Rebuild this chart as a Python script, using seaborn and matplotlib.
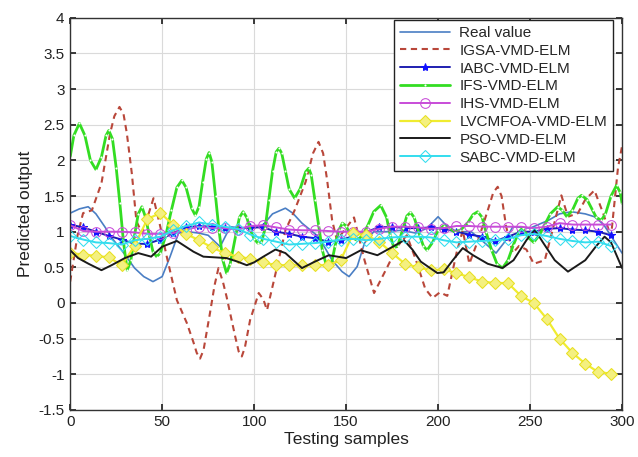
import numpy as np
import pandas as pd
import matplotlib
matplotlib.use("Agg")
import matplotlib.pyplot as plt
import seaborn as sns

# ---------------- data ----------------
real_x = [0, 5, 9.8, 14, 18.8, 23, 28, 35, 40, 45, 50, 54.3, 58.9, 64, 70, 75, 81.5, 87, 93, 100,
          105, 110, 117, 121, 126, 135, 142.4, 147.8, 151.6, 156, 160, 165, 172, 180, 188, 194, 200,
          204, 210, 218, 225, 231.5, 236, 240.6, 250, 260, 266, 272.5, 280, 285, 290, 295, 300]
real_y = [1.26, 1.32, 1.35, 1.25, 1.07, 0.9, 0.74, 0.49, 0.37, 0.3, 0.37, 0.65, 0.98, 1.0, 0.98, 0.95,
          0.79, 1.07, 1.05, 1.05, 1.1, 1.25, 1.33, 1.26, 1.12, 0.93, 0.6, 0.44, 0.37, 0.51, 0.84, 1.0,
          1.0, 1.02, 0.98, 1.05, 1.21, 1.1, 1.0, 1.0, 0.85, 0.7, 0.85, 1.07, 1.05, 1.16, 1.25, 1.28,
          1.25, 1.21, 1.1, 0.9, 0.7]

igsa_x = [0, 4, 7, 11.8, 17, 21.7, 24, 26.8, 29, 30.8, 33.5, 36, 39, 42, 45.3, 49, 52.5, 58, 63.4,
          67, 68.8, 70.6, 72.5, 76, 78.5, 80.6, 83, 85, 89.7, 91.6, 93.3, 95, 97.8, 102.5, 105, 107,
          112.5, 117, 122, 128, 132, 135, 137.5, 139.7, 142.4, 145, 149, 154.3, 160, 165.2, 172.5,
          178, 183, 188, 193, 197, 201, 205, 210, 213.4, 217, 222, 227, 230, 232.4, 234.5, 237,
          240.6, 244, 248, 252, 258, 262, 267, 270.6, 276, 280, 285, 289.7, 294, 297.8, 300]
igsa_y = [0.3, 0.95, 1.26, 1.3, 1.68, 2.38, 2.62, 2.75, 2.65, 2.38, 1.82, 1.15, 0.98, 1.2, 1.47,
          1.07, 0.65, 0.04, -0.28, -0.55, -0.7, -0.78, -0.66, -0.14, 0.25, 0.49, 0.3, 0.09, -0.47,
          -0.68, -0.75, -0.62, -0.24, 0.14, 0.05, -0.1, 0.51, 1.02, 1.3, 1.7, 2.1, 2.26, 2.1, 1.72,
          1.16, 0.88, 1.02, 1.2, 0.6, 0.14, 0.51, 0.8, 0.95, 0.6, 0.2, 0.07, 0.15, 0.1, 0.7, 1.02,
          0.55, 0.9, 1.3, 1.55, 1.63, 1.5, 1.07, 0.7, 0.8, 0.75, 0.55, 0.6, 1.0, 1.51, 1.21, 1.26,
          1.45, 1.58, 1.26, 0.93, 1.9, 2.2]

ifs_x = [0, 2, 5, 8, 11, 14, 17, 19.5, 21, 23, 25, 27, 29, 31, 33, 35, 37, 39, 41, 43, 45, 47, 49,
         52, 55, 58, 60.7, 63, 66, 68, 70, 72, 74, 75.5, 77, 79, 81, 83, 85, 87, 90, 92, 94, 96, 98,
         100, 102, 104, 106, 108, 110, 112, 113.5, 115, 117, 119, 122, 125, 128, 129.7, 131, 133,
         135, 137, 139, 140.6, 142, 144, 146, 148, 150, 153, 156, 159, 162, 165, 168.8, 172, 174,
         176, 178, 181, 183, 185, 187, 190, 192, 194, 197, 200, 203, 206, 209, 212, 216, 219,
         221.5, 224, 226, 229, 232, 235, 238, 241, 244, 246, 249, 252, 255, 258, 261, 265, 267.5,
         270, 273, 276, 278, 281, 284, 286, 288.7, 291, 294, 297, 299, 300]
ifs_y = [2.05, 2.35, 2.52, 2.35, 2.0, 1.87, 2.05, 2.35, 2.42, 2.3, 1.9, 1.4, 0.85, 0.46, 0.6, 0.95,
         1.25, 1.35, 1.2, 0.95, 0.72, 0.65, 0.7, 0.95, 1.3, 1.62, 1.72, 1.62, 1.33, 1.23, 1.35, 1.7,
         2.02, 2.11, 1.98, 1.5, 1.0, 0.6, 0.42, 0.55, 0.95, 1.2, 1.28, 1.2, 1.02, 0.9, 0.84, 0.85,
         1.05, 1.45, 1.85, 2.12, 2.17, 2.1, 1.85, 1.6, 1.47, 1.6, 1.84, 1.89, 1.8, 1.45, 1.1, 0.75,
         0.55, 0.49, 0.55, 0.8, 1.02, 1.12, 1.08, 0.92, 0.88, 0.95, 1.1, 1.28, 1.37, 1.2, 0.95, 0.77,
         0.8, 1.05, 1.22, 1.27, 1.2, 0.95, 0.8, 0.74, 0.85, 1.02, 1.08, 1.05, 1.0, 1.02, 1.12, 1.24,
         1.28, 1.2, 1.0, 0.75, 0.55, 0.49, 0.6, 0.82, 1.0, 1.05, 0.92, 0.85, 0.95, 1.1, 1.25, 1.35,
         1.3, 1.21, 1.3, 1.47, 1.51, 1.45, 1.3, 1.2, 1.16, 1.25, 1.5, 1.65, 1.55, 1.4]

pso_x = [0, 4.3, 10, 17, 22.5, 29.7, 37, 44, 50, 58, 67, 72.4, 85, 91, 96, 100, 105, 111.6, 117, 126,
         133, 140.6, 150, 158, 167, 174, 181.5, 186, 190.6, 199.6, 203, 208, 213.4, 219, 227, 235,
         241, 248, 252.5, 257, 263.4, 270.6, 280, 286, 290.5, 294, 300]
pso_y = [0.74, 0.63, 0.55, 0.46, 0.53, 0.63, 0.7, 0.65, 0.79, 0.87, 0.72, 0.65, 0.63, 0.58, 0.53,
         0.57, 0.65, 0.75, 0.7, 0.49, 0.58, 0.67, 0.63, 0.74, 0.67, 0.77, 0.88, 0.75, 0.58, 0.42,
         0.43, 0.6, 0.77, 0.67, 0.55, 0.49, 0.6, 0.88, 1.03, 0.85, 0.6, 0.44, 0.6, 0.8, 0.93, 0.85,
         0.49]

# marker series sampled every 7 testing samples
mk_x = list(range(0, 295, 7))
ihs_y = [1.09, 1.01, 1.0, 1.0, 1.0, 0.99, 0.97, 0.97, 0.98, 1.03, 1.07, 1.05, 1.05, 1.03, 1.08,
         1.09, 1.06, 1.03, 1.02, 1.02, 1.01, 1.0, 1.0, 1.0, 1.04, 1.07, 1.07, 1.06, 1.04, 1.05,
         1.08, 1.08, 1.07, 1.07, 1.07, 1.07, 1.05, 1.07, 1.12, 1.1, 1.1, 1.1, 1.1]
iabc_y = [1.1, 1.06, 1.0, 0.94, 0.89, 0.83, 0.83, 0.89, 0.98, 1.06, 1.08, 1.07, 1.05, 1.05, 1.06,
          1.06, 1.0, 0.97, 0.93, 0.91, 0.86, 0.88, 0.94, 1.0, 1.06, 1.07, 1.05, 1.05, 1.06, 1.04,
          1.0, 0.96, 0.93, 0.87, 0.93, 1.0, 1.0, 1.04, 1.05, 1.03, 1.02, 1.0, 0.95]
sabc_y = [0.94, 0.89, 0.85, 0.84, 0.82, 0.88, 0.9, 0.93, 1.02, 1.08, 1.13, 1.1, 1.07, 1.04, 0.96,
          0.9, 0.86, 0.82, 0.83, 0.84, 0.86, 0.89, 0.9, 0.88, 0.9, 0.92, 0.93, 0.93, 0.92, 0.88,
          0.85, 0.86, 0.87, 0.88, 0.9, 0.95, 0.97, 0.94, 0.9, 0.87, 0.85, 0.86, 0.8]
lvc_y = [0.7, 0.68, 0.66, 0.64, 0.53, 0.8, 1.18, 1.26, 1.1, 0.97, 0.88, 0.78, 0.7, 0.65, 0.62,
         0.57, 0.53, 0.53, 0.53, 0.53, 0.53, 0.6, 0.98, 0.95, 0.86, 0.7, 0.55, 0.5, 0.46, 0.47,
         0.42, 0.36, 0.3, 0.28, 0.28, 0.1, 0.0, -0.22, -0.5, -0.7, -0.85, -0.97, -0.99]

x_ticks = [0, 50, 100, 150, 200, 250, 300]
y_ticks = [-1.5, -1, -0.5, 0, 0.5, 1, 1.5, 2, 2.5, 3, 3.5, 4]
y_tick_labels = ["-1.5", "-1", "-0.5", "0", "0.5", "1", "1.5", "2", "2.5", "3", "3.5", "4"]

# ---------------- figure ----------------
sns.set_theme(style="whitegrid")
plt.rcParams["font.family"] = ["Liberation Sans", "DejaVu Sans"]

fig = plt.figure(figsize=(6.38, 4.57), dpi=100)
ax = fig.add_axes([0.110, 0.103, 0.865, 0.858])
ax.set_facecolor("white")

def draw(x, y, label, **kw):
    df = pd.DataFrame({"x": x, "y": y})
    sns.lineplot(data=df, x="x", y="y", ax=ax, label=label, sort=False, **kw)

draw(real_x, real_y, "Real value", color="#4A7EC4", linewidth=1.2)
draw(igsa_x, igsa_y, "IGSA-VMD-ELM", color="#B9473A", linewidth=1.5, dashes=(3, 2.2))
draw(mk_x, iabc_y, "IABC-VMD-ELM", color="#1F1FB0", linewidth=1.4, marker="*",
     markersize=6, markerfacecolor="#1010FF", markeredgecolor="#1010FF")
draw(ifs_x, ifs_y, "IFS-VMD-ELM", color="#33DD22", linewidth=2.0, marker=".",
     markersize=1.5)
draw(mk_x, ihs_y, "IHS-VMD-ELM", color="#C84CD8", linewidth=1.4, marker="o",
     markersize=7, markerfacecolor="none", markeredgecolor="#C84CD8")
draw(mk_x, lvc_y, "LVCMFOA-VMD-ELM", color="#F0EC30", linewidth=1.6, marker="D",
     markersize=6, markerfacecolor="#F4F080", markeredgecolor="#E8E020")
draw(pso_x, pso_y, "PSO-VMD-ELM", color="#1A1A1A", linewidth=1.4)
draw(mk_x, sabc_y, "SABC-VMD-ELM", color="#33DDEE", linewidth=1.4, marker="D",
     markersize=6, markerfacecolor="none", markeredgecolor="#33DDEE")

ax.set_xlim(0, 300)
ax.set_ylim(-1.5, 4)
ax.set_xticks(x_ticks)
ax.set_xticklabels([str(t) for t in x_ticks])
ax.set_yticks(y_ticks)
ax.set_yticklabels(y_tick_labels)
ax.grid(True, color="#DADADA", linewidth=0.8)
ax.tick_params(axis="both", direction="in", length=4, labelsize=11, colors="#222222",
               top=True, right=True, bottom=True, left=True, pad=4)
for s in ax.spines.values():
    s.set_color("#333333")
    s.set_linewidth(1.0)
    s.set_visible(True)

ax.set_xlabel("Testing samples", fontsize=12.5, color="#222222", labelpad=2)
ax.set_ylabel("Predicted output", fontsize=12.5, color="#222222", labelpad=4)

leg = ax.legend(loc="upper right", bbox_to_anchor=(0.984, 0.995), fontsize=11, frameon=True,
                fancybox=False, edgecolor="#222222", framealpha=1, handlelength=3.3,
                labelspacing=0.25, borderaxespad=0.0, borderpad=0.4, handletextpad=0.6)
leg.get_frame().set_linewidth(1.0)

fig.savefig("out.png", dpi=100)
